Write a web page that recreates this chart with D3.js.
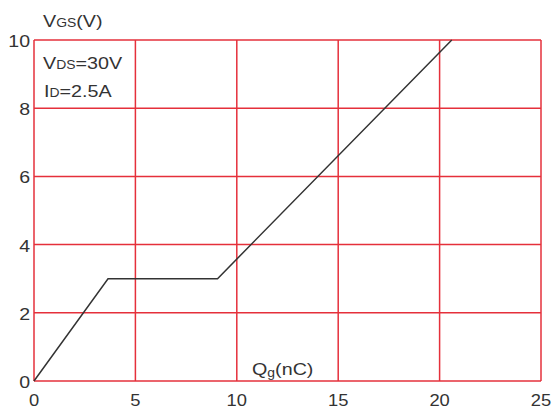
<!DOCTYPE html>
<html>
<head>
<meta charset="utf-8">
<script src="https://cdn.jsdelivr.net/npm/d3@7"></script>
<style>
  body { margin: 0; background: #fff; }
  text { font-family: "Liberation Sans", Arial, sans-serif; fill: #333; }
</style>
</head>
<body>
<svg id="chart" width="552" height="412"></svg>
<script>
// gate charge curve
const qg = [0, 3.65, 9.05, 20.6];
const vgs = [0, 3.0, 3.0, 10];
const xTicks = [0, 5, 10, 15, 20, 25];
const yTicks = [0, 2, 4, 6, 8, 10];

const svg = d3.select('#chart');
const plotLeft = 34, plotRight = 541, plotTop = 40, plotBottom = 381;
const red = '#e5303b';

const x = d3.scaleLinear().domain([0, 25]).range([plotLeft, plotRight]);
const y = d3.scaleLinear().domain([0, 10]).range([plotBottom, plotTop]);

// grid
svg.append('g').selectAll('line').data(xTicks).enter().append('line')
    .attr('x1', d => x(d)).attr('x2', d => x(d))
    .attr('y1', plotTop).attr('y2', plotBottom)
    .attr('stroke', red).attr('stroke-width', 1.5);
svg.append('g').selectAll('line').data(yTicks).enter().append('line')
    .attr('x1', plotLeft).attr('x2', plotRight)
    .attr('y1', d => y(d)).attr('y2', d => y(d))
    .attr('stroke', red).attr('stroke-width', 1.5);

// tick labels (the original type is a bit wide)
svg.append('g').selectAll('text').data(xTicks).enter().append('text')
    .attr('transform', d => `translate(${x(d)},406) scale(1.08,1)`)
    .attr('text-anchor', 'middle').attr('font-size', 17)
    .text(d => d);
svg.append('g').selectAll('text').data(yTicks).enter().append('text')
    .attr('transform', d => `translate(30,${y(d) + 7}) scale(1.15,1)`)
    .attr('text-anchor', 'end').attr('font-size', 17)
    .text(d => d);

// curve
const pts = qg.map((d, i) => [d, vgs[i]]);
svg.append('path')
    .datum(pts)
    .attr('d', d3.line().x(d => x(d[0])).y(d => y(d[1])))
    .attr('fill', 'none').attr('stroke', '#333').attr('stroke-width', 1.5);

// labels with subscripts
function subLabel(px, py, main, sub, rest, drop) {
    const t = svg.append('text')
        .attr('transform', `translate(${px},${py}) scale(1.16,1)`)
        .attr('font-size', 17);
    t.append('tspan').text(main);
    t.append('tspan').attr('font-size', 12).attr('dy', drop).text(sub);
    t.append('tspan').attr('dy', -drop).text(rest);
}
subLabel(43, 27, 'V', 'GS', '(V)', 0);
subLabel(43, 69, 'V', 'DS', '=30V', 0);
subLabel(44, 97, 'I', 'D', '=2.5A', 0);
subLabel(252, 375, 'Q', 'g', '(nC)', 2);
</script>
</body>
</html>
